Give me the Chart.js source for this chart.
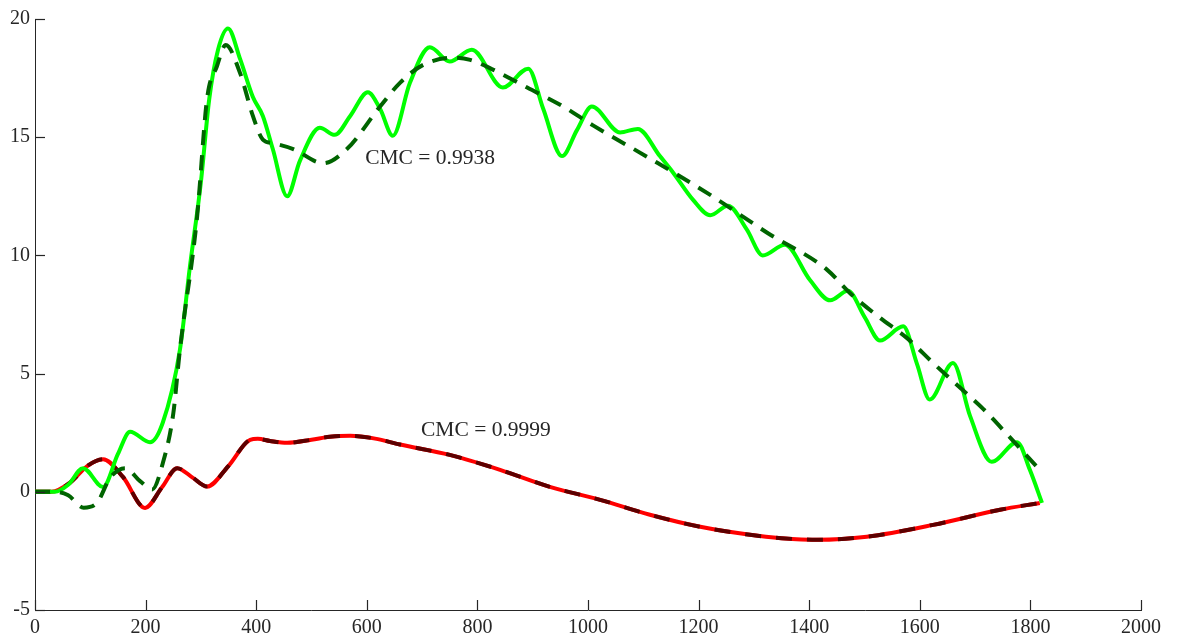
<!DOCTYPE html>
<html>
<head>
<meta charset="utf-8">
<script src="https://cdn.jsdelivr.net/npm/chart.js@4.4.1/dist/chart.umd.min.js"></script>
<style>
  html, body { margin: 0; padding: 0; background: #fff; }
  #wrap { width: 1177px; height: 637px; }
</style>
</head>
<body>
<div id="wrap"><canvas id="cmcChart"></canvas></div>
<script>
// x ticks / y ticks
const xTicks = [0, 200, 400, 600, 800, 1000, 1200, 1400, 1600, 1800, 2000];
const yTicks = [-5, 0, 5, 10, 15, 20];

// red curve (measured) and its dark red dashed fit
const redX = [0, 30, 63, 95, 123, 159, 199, 230, 257, 285, 311, 350, 389, 403, 425, 456, 500, 533, 570, 615, 660, 750, 841, 931, 1022, 1112, 1203, 1293, 1350, 1414, 1504, 1624, 1745, 1817];
const redY = [0, 0, 0.38, 1.1, 1.38, 0.63, -0.68, 0.2, 1.0, 0.6, 0.22, 1.1, 2.2, 2.24, 2.15, 2.07, 2.2, 2.33, 2.37, 2.25, 2.0, 1.56, 0.93, 0.21, -0.34, -0.97, -1.48, -1.82, -1.96, -2.03, -1.9, -1.4, -0.76, -0.47];
const redFitY = [0, 0, 0.38, 1.1, 1.38, 0.63, -0.68, 0.2, 1.0, 0.6, 0.22, 1.1, 2.2, 2.24, 2.15, 2.07, 2.2, 2.33, 2.37, 2.25, 2.0, 1.56, 0.93, 0.21, -0.34, -0.97, -1.48, -1.82, -1.96, -2.03, -1.9, -1.4, -0.76, -0.47];

// bright green curve (measured)
const greenX = [0, 36, 60, 87, 123, 150, 172, 208, 231, 262, 280, 300, 315, 331, 349, 371, 394, 412, 430, 456, 479, 515, 542, 570, 602, 624, 647, 678, 714, 750, 790, 846, 892, 919, 953, 980, 1007, 1058, 1090, 1130, 1154, 1190, 1221, 1253, 1287, 1316, 1356, 1401, 1438, 1470, 1500, 1528, 1570, 1595, 1618, 1660, 1691, 1730, 1776, 1799, 1821];
const greenY = [0, 0, 0.3, 1.0, 0.2, 1.6, 2.54, 2.1, 2.92, 6.0, 9.5, 13.1, 16.6, 18.7, 19.6, 18.3, 16.7, 15.9, 14.5, 12.5, 14.0, 15.4, 15.1, 15.9, 16.9, 16.2, 15.06, 17.3, 18.8, 18.2, 18.7, 17.1, 17.9, 16.2, 14.2, 15.3, 16.3, 15.2, 15.35, 14.2, 13.5, 12.35, 11.7, 12.1, 11.1, 10.0, 10.45, 8.97, 8.1, 8.5, 7.4, 6.4, 7.0, 5.4, 3.9, 5.45, 3.2, 1.27, 2.1, 0.93, -0.47];

// dark green dashed fit
const fitX = [0, 36, 60, 88, 112, 136, 163, 190, 212, 231, 250, 262, 293, 311, 329, 345, 371, 394, 412, 430, 467, 521, 564, 624, 660, 702, 756, 787, 829, 890, 955, 1009, 1112, 1221, 1324, 1432, 1474, 1528, 1577, 1624, 1673, 1715, 1763, 1814];
const fitY = [0, 0, -0.15, -0.67, -0.47, 0.6, 1.0, 0.45, 0.1, 1.2, 3.3, 6.0, 11.6, 16.6, 18.0, 18.9, 17.7, 15.9, 14.9, 14.75, 14.5, 13.9, 14.5, 16.3, 17.3, 18.06, 18.36, 18.27, 17.85, 17.1, 16.3, 15.5, 14.1, 12.56, 10.96, 9.4, 8.4, 7.36, 6.5, 5.45, 4.4, 3.5, 2.3, 1.0];

// text labels
const labelText = ['CMC = 0.9938', 'CMC = 0.9999'];
const labelX = [597, 698];
const labelY = [14.1, 2.58];

const FONT = '"Liberation Serif", "DejaVu Serif", serif';
const INK = '#262626';

function pts(xs, ys) {
    return xs.map((x, i) => ({ x: x, y: ys[i] }));
}

// inward tick marks + CMC labels
const innerTicks = {
    id: 'innerTicks',
    afterDatasetsDraw(chart) {
        const c = chart.ctx;
        const xs = chart.scales.x, ys = chart.scales.y;
        const bottom = Math.round(chart.chartArea.bottom);
        const left = Math.round(chart.chartArea.left);
        c.save();
        c.globalAlpha = 1;
        c.setLineDash([]);
        c.strokeStyle = INK;
        c.lineWidth = 1.2;
        xTicks.forEach(v => {
            const px = Math.round(xs.getPixelForValue(v)) + 0.5;
            c.beginPath();
            c.moveTo(px, bottom);
            c.lineTo(px, bottom - 10);
            c.stroke();
        });
        yTicks.forEach(v => {
            const py = Math.round(ys.getPixelForValue(v)) + 0.5;
            c.beginPath();
            c.moveTo(left, py);
            c.lineTo(left + 10, py);
            c.stroke();
        });

        c.fillStyle = INK;
        c.font = '21.5px ' + FONT;
        c.textAlign = 'left';
        c.textBaseline = 'middle';
        labelText.forEach((t, i) => {
            c.fillText(t, xs.getPixelForValue(labelX[i]), ys.getPixelForValue(labelY[i]));
        });
        c.restore();
    }
};

const ctx = document.getElementById('cmcChart').getContext('2d');
new Chart(ctx, {
    type: 'line',
    data: {
        datasets: [
            {
                data: pts(fitX, fitY),
                borderColor: '#006400',
                borderWidth: 4,
                borderDash: [15, 10],
                order: 1
            },
            {
                data: pts(greenX, greenY),
                borderColor: '#00ff00',
                borderWidth: 4,
                order: 2
            },
            {
                data: pts(redX, redFitY),
                borderColor: '#5c0000',
                borderWidth: 4,
                borderDash: [16, 15],
                order: 3
            },
            {
                data: pts(redX, redY),
                borderColor: '#ff0000',
                borderWidth: 4,
                order: 4
            }
        ]
    },
    options: {
        responsive: true,
        maintainAspectRatio: false,
        animation: false,
        layout: { padding: { top: 19, right: 36, left: 0, bottom: 0 } },
        elements: {
            point: { radius: 0, hoverRadius: 0 },
            line: { cubicInterpolationMode: 'monotone', fill: false, borderCapStyle: 'butt' }
        },
        plugins: {
            legend: { display: false },
            tooltip: { enabled: false }
        },
        scales: {
            x: {
                type: 'linear',
                min: 0,
                max: 2000,
                afterFit: s => { s.height = 27; },
                afterBuildTicks: s => { s.ticks = xTicks.map(v => ({ value: v })); },
                grid: { display: false, drawTicks: false },
                border: { display: true, color: INK, width: 1 },
                ticks: {
                    color: INK, padding: 6, maxRotation: 0,
                    font: { family: FONT, size: 20 },
                    callback: v => String(v)
                }
            },
            y: {
                type: 'linear',
                min: -5,
                max: 20,
                afterFit: s => { s.width = 35; },
                afterBuildTicks: s => { s.ticks = yTicks.map(v => ({ value: v })); },
                grid: { display: false, drawTicks: false },
                border: { display: true, color: INK, width: 1 },
                ticks: {
                    color: INK, padding: 5,
                    font: { family: FONT, size: 20 },
                    callback: v => String(v)
                }
            }
        }
    },
    plugins: [innerTicks]
});
</script>
</body>
</html>
